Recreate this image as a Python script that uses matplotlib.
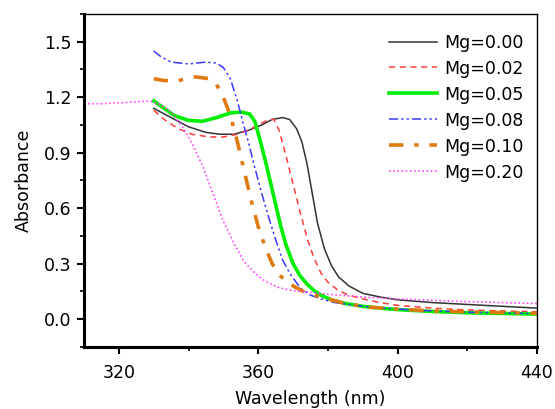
import matplotlib
matplotlib.use("Agg")
import matplotlib.pyplot as plt
from matplotlib.ticker import MultipleLocator

plt.rcParams['font.family'] = ['DejaVu Sans']

labels = ["Mg=0.00", "Mg=0.02", "Mg=0.05", "Mg=0.08", "Mg=0.10", "Mg=0.20"]

wl00 = [330, 332, 336, 340, 345, 349, 353, 357, 361, 364, 367, 369, 371, 372.5, 374, 375.5, 377, 379, 381, 383, 386, 390, 395, 400, 410, 420, 430, 440]
a00 = [1.14, 1.12, 1.08, 1.04, 1.01, 1.00, 1.00, 1.02, 1.05, 1.08, 1.09, 1.08, 1.03, 0.96, 0.84, 0.68, 0.52, 0.38, 0.29, 0.23, 0.18, 0.14, 0.12, 0.105, 0.09, 0.08, 0.07, 0.06]

wl02 = [330, 333, 337, 341, 346, 350, 354, 358, 361, 363, 364.5, 366, 368, 370, 372, 374, 376, 378, 380, 383, 386, 390, 395, 400, 410, 420, 440]
a02 = [1.13, 1.08, 1.03, 1.00, 0.985, 0.985, 1.00, 1.03, 1.06, 1.08, 1.08, 1.02, 0.88, 0.73, 0.58, 0.44, 0.33, 0.25, 0.20, 0.155, 0.13, 0.11, 0.09, 0.075, 0.06, 0.05, 0.04]

wl05 = [330, 333, 336, 340, 344, 348, 352, 355, 357.5, 359, 360.5, 362, 363.5, 365, 366.5, 368, 370, 372, 374, 376, 378, 381, 385, 390, 395, 400, 410, 420, 440]
a05 = [1.18, 1.14, 1.10, 1.075, 1.07, 1.09, 1.115, 1.12, 1.11, 1.07, 0.97, 0.86, 0.74, 0.62, 0.50, 0.40, 0.30, 0.235, 0.19, 0.155, 0.13, 0.105, 0.085, 0.07, 0.06, 0.052, 0.042, 0.035, 0.028]

wl08 = [330, 332, 335, 340, 345, 348, 350, 352, 354, 355.5, 357, 359, 361, 363, 365, 367, 369, 372, 375, 378, 382, 386, 390, 400, 410, 420, 440]
a08 = [1.45, 1.42, 1.39, 1.38, 1.39, 1.385, 1.36, 1.30, 1.18, 1.07, 0.97, 0.82, 0.68, 0.55, 0.43, 0.32, 0.25, 0.17, 0.13, 0.11, 0.09, 0.08, 0.07, 0.055, 0.045, 0.038, 0.03]

wl10 = [330, 333, 337, 342, 346, 348, 350, 352, 354, 356, 358, 360, 362, 364, 366, 369, 373, 378, 385, 392, 400, 410, 420, 440]
a10 = [1.30, 1.29, 1.29, 1.31, 1.30, 1.27, 1.20, 1.10, 0.96, 0.80, 0.64, 0.50, 0.39, 0.30, 0.24, 0.19, 0.15, 0.12, 0.085, 0.065, 0.055, 0.045, 0.04, 0.032]

wl20 = [310, 315, 320, 325, 329, 332, 335, 338, 341, 344, 347, 350, 353, 356, 359, 362, 366, 370, 375, 380, 390, 400, 420, 440]
a20 = [1.165, 1.165, 1.17, 1.175, 1.18, 1.16, 1.12, 1.05, 0.95, 0.83, 0.68, 0.53, 0.41, 0.31, 0.25, 0.205, 0.17, 0.155, 0.145, 0.135, 0.12, 0.11, 0.095, 0.085]

xticks = [320, 360, 400, 440]
yticks = [0.0, 0.3, 0.6, 0.9, 1.2, 1.5]

fs = 12.5
fig = plt.figure(figsize=(5.55, 4.09), dpi=100)
ax = fig.add_axes([0.1514, 0.1516, 0.8162, 0.8142])

ax.plot(wl00, a00, color='#333333', lw=1.1, ls='-', label=labels[0])
ax.plot(wl02, a02, color='#ff3b3b', lw=1.1, ls=(0, (4, 3)), label=labels[1])
ax.plot(wl05, a05, color='#00ee00', lw=2.6, ls='-', label=labels[2])
ax.plot(wl08, a08, color='#3a3aff', lw=1.1, ls=(0, (6, 2, 1.5, 2, 1.5, 2)), label=labels[3])
ax.plot(wl10, a10, color='#e07a10', lw=2.6, ls=(0, (4, 3, 1.2, 3)), label=labels[4])
ax.plot(wl20, a20, color='#ff44ff', lw=1.2, ls=(0, (1, 1.5)), label=labels[5])

ax.set_xlim(310, 440)
ax.set_ylim(-0.15, 1.65)
ax.set_xticks(xticks)
ax.set_yticks(yticks)
ax.set_yticklabels([f"{v:.1f}" for v in yticks])
ax.xaxis.set_minor_locator(MultipleLocator(20))
ax.yaxis.set_minor_locator(MultipleLocator(0.15))
ax.tick_params(axis='y', which='major', direction='out', length=5, width=1.5, labelsize=fs, pad=4)
ax.tick_params(axis='x', which='major', direction='out', length=5, width=1.5, labelsize=fs, pad=7)
ax.tick_params(axis='both', which='minor', direction='out', length=3, width=1.2)
ax.tick_params(top=False, right=False, which='both')

for s in ['left', 'bottom']:
    ax.spines[s].set_linewidth(2.2)
for s in ['top', 'right']:
    ax.spines[s].set_linewidth(1.0)

ax.set_xlabel("Wavelength (nm)", fontsize=fs, labelpad=6)
ax.set_ylabel("Absorbance", fontsize=fs, labelpad=8)

leg = ax.legend(loc='upper right', frameon=False, fontsize=fs, handlelength=2.75,
                handletextpad=0.4, labelspacing=0.46, borderaxespad=0.0,
                bbox_to_anchor=(0.985, 0.962))

fig.savefig("out.png", dpi=100)
